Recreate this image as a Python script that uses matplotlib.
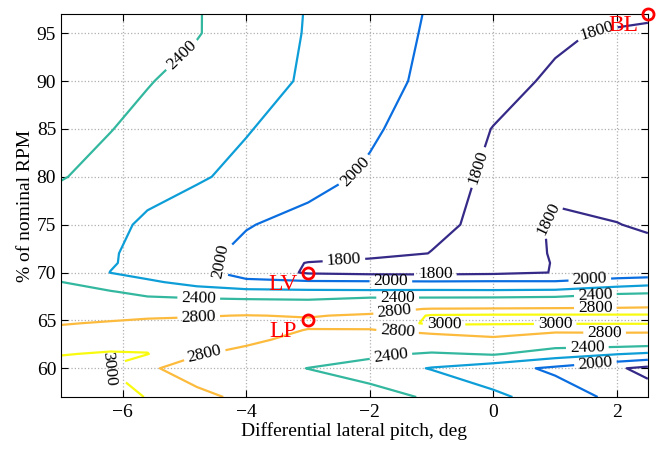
import numpy as np
import matplotlib
matplotlib.use('Agg')
import matplotlib.pyplot as plt

plt.rcParams['font.family'] = ['Liberation Serif', 'DejaVu Serif']

# grid of the map
pitch = [-7, -6.2, -5.6, -4.8, -4, -3, -2, -1, 0, 1, 2, 2.5]
rpm_pct = [57, 60, 61.5, 63, 64, 64.7, 65.5, 66.2, 67, 68, 69, 70, 71, 72,
           75, 80, 85, 90, 95, 97]

# values, one row per rpm_pct entry
rpm_map = [
    [3200, 3090, 2990, 2880, 2730, 2620, 2490, 2370, 2240, 2110, 1950, 1883],  # 57
    [3080, 2995, 2850, 2650, 2535, 2395, 2295, 2190, 2082, 1962, 1822, 1752],  # 60
    [2990, 3020, 3005, 2825, 2710, 2560, 2455, 2370, 2420, 2300, 2210, 2170],  # 61.5
    [2900, 2900, 2950, 2890, 2870, 2700, 2680, 2680, 2760, 2550, 2600, 2590],  # 63
    [2830, 2860, 2900, 2870, 2860, 2795, 2790, 2880, 2910, 2890, 2880, 2880],  # 64
    [2790, 2815, 2860, 2840, 2840, 2830, 2880, 3030, 3015, 3010, 3010, 3010],  # 64.7
    [2730, 2760, 2760, 2790, 2805, 2790, 2820, 3020, 3030, 3030, 3030, 3030],  # 65.5
    [2680, 2700, 2690, 2700, 2710, 2700, 2740, 2810, 2820, 2830, 2830, 2840],  # 66.2
    [2590, 2560, 2450, 2450, 2440, 2430, 2500, 2500, 2510, 2530, 2620, 2640],  # 67
    [2490, 2410, 2350, 2290, 2260, 2240, 2235, 2240, 2235, 2245, 2330, 2350],  # 68
    [2403, 2300, 2235, 2130, 2030, 2030, 2025, 2020, 2025, 2020, 2080, 2120],  # 69
    [2360, 2197, 2120, 2045, 1940, 1775, 1750, 1745, 1760, 1805, 1880, 1880],  # 70
    [2320, 2215, 2140, 2046, 1948, 1790, 1760, 1740, 1745, 1805, 1860, 1865],  # 71
    [2300, 2215, 2150, 2046, 1960, 1910, 1847, 1797, 1760, 1806, 1850, 1860],  # 72
    [2290, 2245, 2170, 2094, 2010, 1945, 1886, 1826, 1770, 1806, 1805, 1775],  # 75
    [2410, 2340, 2270, 2221, 2151, 2064, 1973, 1871, 1770, 1790, 1710, 1710],  # 80
    [2475, 2405, 2350, 2280, 2211, 2117, 2026, 1912, 1795, 1720, 1700, 1700],  # 85
    [2535, 2465, 2410, 2340, 2270, 2178, 2065, 1960, 1866, 1770, 1730, 1720],  # 90
    [2600, 2560, 2490, 2410, 2310, 2187, 2078, 1979, 1906, 1833, 1770, 1730],  # 95
    [2630, 2580, 2480, 2410, 2312, 2190, 2087, 1985, 1950, 1900, 1870, 1860],  # 97
]

# labelled levels, and the one level drawn without labels
label_levels = [1800, 2000, 2400, 2800, 3000]
label_colors = ['#352a87', '#0a6ee0', '#33b89f', '#fcbb3d', '#f9fb0e']
plain_levels = [2200]
plain_colors = ['#0d9ed8']

# where the inline labels sit
label_spots = [
    (-2.42, 71.3), (-0.94, 69.8), (-0.26, 81), (0.85, 75.8), (1.69, 94.6),
    (-2.27, 80.7), (-4.45, 71.2), (-1.66, 69.1), (1.56, 69.3), (1.65, 60.6),
    (-4.97, 92.2), (-4.77, 67.4), (-1.55, 67.4), (1.65, 67.7), (-1.66, 61.3), (1.52, 62.2),
    (-4.77, 65.3), (-4.68, 61.6), (-1.6, 65.9), (-1.55, 64.0), (1.65, 66.3), (1.8, 63.7),
    (-6.25, 59.5), (-0.8, 64.65), (1.0, 64.7),
]

# operating points
point_names = ['LV', 'LP', 'BL']
point_pitch = [-3, -3, 2.5]
point_rpm = [70, 65, 97]

X, Y = np.meshgrid(pitch, rpm_pct)
Z = np.array(rpm_map, dtype=float)

fig = plt.figure(figsize=(6.61, 4.49), dpi=100)
ax = fig.add_axes([0.0923, 0.1158, 0.8878, 0.853])

ax.contour(X, Y, Z, levels=plain_levels, colors=plain_colors, linewidths=1.6)
cs = ax.contour(X, Y, Z, levels=label_levels, colors=label_colors, linewidths=1.6)
ax.clabel(cs, inline=True, inline_spacing=4, fmt='%d',
          fontsize=12.5, colors='k', manual=label_spots)

for name, px, py in zip(point_names, point_pitch, point_rpm):
    ax.plot(px, py, 'o', ms=8, mfc='none', mec='red', mew=2, clip_on=False, zorder=5)
    ax.text(px - 0.4, py - 1.2, name, color='red', fontsize=17,
            ha='center', va='center', zorder=5)

ax.set_xlim(-7, 2.5)
ax.set_ylim(57, 97)
ax.set_xticks([-6, -4, -2, 0, 2])
ax.set_yticks([60, 65, 70, 75, 80, 85, 90, 95])
ax.grid(True, linestyle=':', color='#b0b0b0', linewidth=0.9)
ax.tick_params(direction='in', top=True, right=True, length=5, labelsize=14)
ax.tick_params(axis='x', pad=5)
ax.set_xlabel('Differential lateral pitch, deg', fontsize=14, labelpad=1)
ax.set_ylabel('% of nominal RPM', fontsize=14, labelpad=2)

fig.savefig('out.png', dpi=100)
